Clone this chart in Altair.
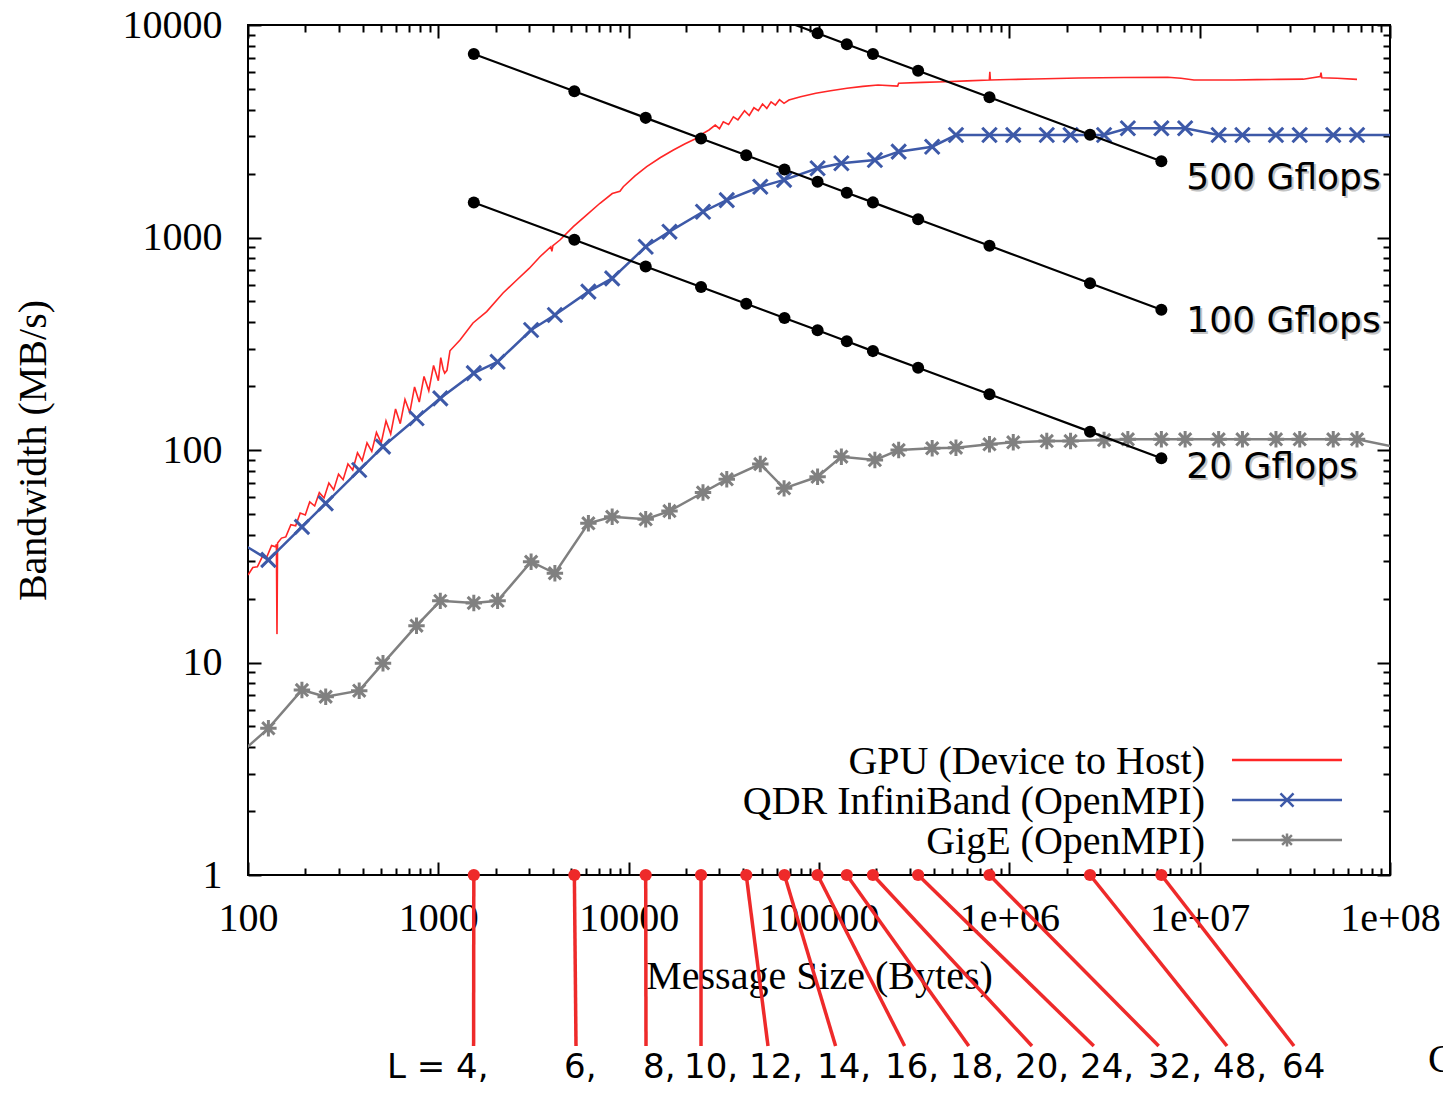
import altair as alt
import pandas as pd

# ---------------- data ----------------
gpu_size = [100, 106, 112, 119, 126, 133, 140, 141, 142, 143,
            150, 158, 168, 178, 188, 200, 211, 224, 237, 251,
            266, 282, 299, 316, 335, 355, 376, 398, 422, 447,
            473, 501, 531, 562, 596, 631, 668, 708, 750, 794,
            841, 891, 944, 1000, 1030, 1060, 1080, 1110, 1151, 1300,
            1521, 1795, 2188, 2583, 3000, 3420, 3900, 3950, 4000, 4355,
            5118, 6000, 7066, 8200, 9000, 9372, 10800, 12440, 14700, 17180,
            19800, 22750, 24500, 26420, 28500, 30000, 31420, 33500, 35500, 37500,
            40620, 43000, 45500, 48000, 50500, 53200, 56000, 59000, 62000, 65500,
            69500, 80000, 96200, 115000, 140300, 170000, 204200, 259000, 262000, 350000,
            459000, 600000, 785000, 790000, 795000, 1000000, 1349000, 2310000, 4000000, 6790000,
            7980000, 9330000, 15200000, 20000000, 26100000, 35000000, 43000000, 43400000, 43800000, 52700000,
            67100000]
gpu_bw = [25.8, 28.0, 28.2, 31.5, 31.6, 35.5, 35.0, 36.0, 13.6, 36.5,
          38.5, 39.0, 44.5, 44.0, 50.5, 49.5, 57.0, 54.5, 63.0, 59.5,
          70.0, 65.0, 77.0, 72.5, 86.0, 80.5, 97.0, 89.0, 108, 98.5,
          121, 108, 137, 119, 156, 133, 173, 150, 198, 168,
          222, 190, 250, 212, 272, 240, 230, 237, 293, 329,
          396, 448, 548, 631, 715, 812, 905, 860, 915, 973,
          1125, 1274, 1449, 1610, 1650, 1734, 1950, 2154, 2380, 2582,
          2760, 2930, 3080, 3206, 3380, 3250, 3500, 3400, 3700, 3580,
          3950, 3750, 4080, 3950, 4250, 4050, 4350, 4200, 4450, 4280,
          4436, 4600, 4773, 4900, 5035, 5140, 5222, 5160, 5318, 5370,
          5410, 5460, 5510, 6030, 5510, 5540, 5570, 5633, 5660, 5675,
          5612, 5510, 5510, 5530, 5548, 5560, 5717, 5970, 5650, 5612,
          5548]

net_size = [96, 128, 192, 256, 384, 512, 768, 1024,
            1536, 2048, 3072, 4096, 6144, 8192,
            12288, 16384, 24576, 32768, 49152, 65536,
            98304, 131072, 196608, 262144, 393216, 524288,
            786432, 1048576, 1572864, 2097152, 3145728, 4194304,
            6291456, 8388608, 12582912, 16777216, 25165824, 33554432,
            50331648, 67108864, 100663296]
ib_bw = [35.6, 30.4, 43.5, 56.1, 80.5, 103.7, 141, 175,
         230, 260, 367, 432, 556, 642,
         905, 1065, 1322, 1500, 1733, 1866,
         2118, 2235, 2317, 2535, 2675, 3036,
         3036, 3036, 3036, 3036, 3036, 3266,
         3266, 3266, 3036, 3036, 3036, 3036,
         3036, 3036, 3036]
gige_bw = [3.9, 4.9, 7.42, 6.9, 7.37, 9.91, 14.9, 19.5,
           19.05, 19.5, 29.8, 26.3, 45.2, 48.5,
           47.2, 51.6, 63.1, 72.8, 85.9, 66.0,
           74.8, 93.0, 89.7, 100, 101.9, 102.5,
           106.4, 108.7, 110.2, 110.2, 111.4, 112.3,
           112.3, 112.3, 112.3, 112.3, 112.3, 112.3,
           112.3, 112.3, 104.4]

L_values = [4, 6, 8, 10, 12, 14, 16, 18, 20, 24, 32, 48, 64]
L_msg_size = [1536, 5184, 12288, 24000, 41472, 65856, 98304, 139968,
              192000, 331776, 786432, 2654208, 6291456]
L_labels = ["L = 4,", "6,", "8,", "10,", "12,", "14,", "16,", "18,",
            "20,", "24,", "32,", "48,", "64"]
gf20_bw = [1462, 975, 731, 585, 488, 418, 366, 325, 292, 244, 183, 122, 91.4]
gf100_bw = [7310, 4875, 3656, 2925, 2438, 2089, 1828, 1625, 1463, 1219, 914, 609, 457]
gf500_bw = [36560, 24380, 18280, 14620, 12190, 10450, 9140, 8125, 7310, 6094, 4570, 3047, 2285]
gflops_names = ["20 Gflops", "100 Gflops", "500 Gflops"]

series_names = ["GPU (Device to Host)", "QDR InfiniBand (OpenMPI)", "GigE (OpenMPI)"]

x_tick_values = [100, 1000, 10000, 100000, 1000000, 10000000, 100000000]
x_tick_labels = ["100", "1000", "10000", "100000", "1e+06", "1e+07", "1e+08"]
y_tick_values = [1, 10, 100, 1000, 10000]
y_tick_labels = ["1", "10", "100", "1000", "10000"]

# ---------------- layout / style ----------------
W, H = 1142, 850
SERIF = "Liberation Serif"
SANS = "DejaVu Sans"
MAJ, MIN = 13, 7
RED_GPU = "#ff2626"
RED_STEM = "#ee2a2a"
BLUE = "#3d59a8"
GRAY = "#808080"

stem_end_px = [225.6, 328, 398, 453, 520, 587.6, 656.6, 720.8, 784, 845.8, 910.7, 979, 1046]
label_left_px = [139, 316, 395, 436, 501, 569, 637, 702, 767, 832, 900, 965, 1034]
STEM_BOTTOM = 1021
LABEL_BASE = 1053
gf_label_dy = [9, 11, 17]

CROSS = "M-1,-1L1,1M-1,1L1,-1"
STAR = "M-1,0L1,0M0,-1L0,1M-0.75,-0.75L0.75,0.75M-0.75,0.75L0.75,-0.75"
series_colors = [RED_GPU, BLUE, GRAY]
series_marker = [None, CROSS, STAR]
LEG_TEXT_X, LEG_LINE_X1, LEG_LINE_X2, LEG_Y0, LEG_DY = 957, 984, 1094, 735, 40

x_minor = [m * 10 ** k for k in range(2, 8) for m in range(2, 10)]
y_minor = [m * 10 ** k for k in range(0, 4) for m in range(2, 10)]


def label_expr(values, labels):
    expr = "''"
    for v, t in reversed(list(zip(values, labels))):
        expr = f"(abs(datum.value - {v}) < {v} * 1e-6) ? '{t}' : ({expr})"
    return expr


x_scale = alt.Scale(type="log", domain=[100, 100000000], nice=False)
y_scale = alt.Scale(type="log", domain=[1, 10000], nice=False)

tick_common = dict(domain=False, grid=False, tickColor="black", tickWidth=2)

ax_bottom_major = alt.Axis(
    orient="bottom", values=x_tick_values, offset=-MAJ, tickSize=MAJ,
    labelExpr=label_expr(x_tick_values, x_tick_labels),
    labelFont=SERIF, labelFontSize=40, labelColor="black", labelPadding=23,
    labelFlush=False, labelOverlap=False,
    title="Message Size (Bytes)", titleFont=SERIF, titleFontSize=40,
    titleFontWeight="normal", titleColor="black",
    titleX=W / 2, titleY=126, titleBaseline="alphabetic", titleAlign="center",
    **tick_common)
ax_bottom_minor = alt.Axis(orient="bottom", values=x_minor, offset=-MIN, tickSize=MIN,
                           labels=False, title=None, **tick_common)
ax_top_major = alt.Axis(orient="top", values=x_tick_values, offset=-MAJ, tickSize=MAJ,
                        labels=False, title=None, **tick_common)
ax_top_minor = alt.Axis(orient="top", values=x_minor, offset=-MIN, tickSize=MIN,
                        labels=False, title=None, **tick_common)

ax_left_major = alt.Axis(
    orient="left", values=y_tick_values, offset=-MAJ, tickSize=MAJ,
    labelExpr=label_expr(y_tick_values, y_tick_labels),
    labelFont=SERIF, labelFontSize=40, labelColor="black", labelPadding=26,
    labelFlush=False, labelOverlap=False,
    title="Bandwidth (MB/s)", titleFont=SERIF, titleFontSize=40,
    titleFontWeight="normal", titleColor="black",
    titleX=-216, titleY=H / 2, titleAngle=270, titleBaseline="alphabetic",
    titleAlign="center",
    **tick_common)
ax_left_minor = alt.Axis(orient="left", values=y_minor, offset=-MIN, tickSize=MIN,
                         labels=False, title=None, **tick_common)
ax_right_major = alt.Axis(orient="right", values=y_tick_values, offset=-MAJ, tickSize=MAJ,
                          labels=False, title=None, **tick_common)
ax_right_minor = alt.Axis(orient="right", values=y_minor, offset=-MIN, tickSize=MIN,
                          labels=False, title=None, **tick_common)


def X(axis=None, field="size:Q"):
    return alt.X(field, scale=x_scale, axis=axis)


def Y(axis=None):
    return alt.Y("bw:Q", scale=y_scale, axis=axis)


# ---------------- tables ----------------
gpu_df = pd.DataFrame({"size": gpu_size, "bw": gpu_bw})
ib_df = pd.DataFrame({"size": net_size, "bw": ib_bw})
gige_df = pd.DataFrame({"size": net_size, "bw": gige_bw})
gf_rows = []
for name, vals in zip(gflops_names, [gf20_bw, gf100_bw, gf500_bw]):
    for s, b in zip(L_msg_size, vals):
        gf_rows.append({"series": name, "size": s, "bw": b})
gf_df = pd.DataFrame(gf_rows)
stem_df = pd.DataFrame({"size": L_msg_size, "end_px": stem_end_px,
                        "lpx": label_left_px, "label": L_labels})

# ---------------- layers ----------------
layers = []
layers.append(alt.Chart(gpu_df).mark_line(color=RED_GPU, strokeWidth=1.6, clip=True).encode(
    x=X(ax_bottom_major), y=Y(ax_left_major)))

layers.append(alt.Chart(ib_df).mark_line(color=BLUE, strokeWidth=2.5, clip=True).encode(
    x=X(ax_bottom_minor), y=Y(ax_left_minor)))
layers.append(alt.Chart(ib_df).transform_filter(
    "datum.size >= 100 && datum.size <= 100000000").mark_point(
    shape=CROSS, filled=False, size=210, strokeWidth=3, color=BLUE, opacity=1, clip=True).encode(
    x=X(ax_top_major), y=Y(ax_right_major)))

layers.append(alt.Chart(gige_df).mark_line(color=GRAY, strokeWidth=2.5, clip=True).encode(
    x=X(ax_top_minor), y=Y(ax_right_minor)))
layers.append(alt.Chart(gige_df).transform_filter(
    "datum.size >= 100 && datum.size <= 100000000").mark_point(
    shape=STAR, filled=False, size=270, strokeWidth=3, color=GRAY, opacity=1, clip=True).encode(
    x=X(), y=Y()))

layers.append(alt.Chart(gf_df).mark_line(color="black", strokeWidth=2.2, clip=True).encode(
    x=X(), y=Y(), detail="series:N"))
layers.append(alt.Chart(gf_df).transform_filter("datum.bw <= 10000").mark_circle(
    color="black", size=145, opacity=1).encode(x=X(), y=Y()))

for name, vals, dy in zip(gflops_names, [gf20_bw, gf100_bw, gf500_bw], gf_label_dy):
    lab_df = pd.DataFrame({"size": [L_msg_size[-1]], "bw": [vals[-1]], "label": [name]})
    layers.append(alt.Chart(lab_df).mark_text(
        align="left", baseline="middle", dx=27, dy=dy + 2, font=SANS, fontSize=36,
        color="#c4c4c4").encode(x=X(), y=Y(), text="label:N"))
    layers.append(alt.Chart(lab_df).mark_text(
        align="left", baseline="middle", dx=25, dy=dy, font=SANS, fontSize=36,
        color="black").encode(x=X(), y=Y(), text="label:N"))

layers.append(alt.Chart(stem_df).transform_calculate(
    xend=f"pow(10, 2 + 6 * datum.end_px / {W})").mark_rule(
    color=RED_STEM, strokeWidth=3.5).encode(
    x=X(), x2=alt.X2("xend:Q"), y=alt.value(H), y2=alt.value(STEM_BOTTOM)))
layers.append(alt.Chart(stem_df).mark_circle(color=RED_STEM, size=150, opacity=1).encode(
    x=X(), y=alt.value(H)))
layers.append(alt.Chart(stem_df).transform_calculate(
    lx=f"pow(10, 2 + 6 * datum.lpx / {W})").mark_text(
    align="left", baseline="alphabetic", font=SANS, fontSize=34, color="black").encode(
    x=X(field="lx:Q"), y=alt.value(LABEL_BASE), text="label:N"))

layers.append(alt.Chart(pd.DataFrame({"t": ["C"]})).mark_text(
    align="left", baseline="alphabetic", font=SERIF, fontSize=40, color="black").encode(
    x=alt.value(1180), y=alt.value(1047), text="t:N"))

# key (gnuplot style: text on the left, sample on the right)
for i, (name, col, mk) in enumerate(zip(series_names, series_colors, series_marker)):
    yy = LEG_Y0 + LEG_DY * i
    row_df = pd.DataFrame({"t": [name]})
    layers.append(alt.Chart(row_df).mark_text(
        align="right", baseline="middle", font=SERIF, fontSize=40, color="black").encode(
        x=alt.value(LEG_TEXT_X), y=alt.value(yy + 2), text="t:N"))
    layers.append(alt.Chart(row_df).mark_rule(color=col, strokeWidth=2.5).encode(
        x=alt.value(LEG_LINE_X1), x2=alt.value(LEG_LINE_X2), y=alt.value(yy)))
    if mk is not None:
        layers.append(alt.Chart(row_df).mark_point(
            shape=mk, filled=False, size=170, strokeWidth=2.5, color=col, opacity=1).encode(
            x=alt.value((LEG_LINE_X1 + LEG_LINE_X2) / 2), y=alt.value(yy)))

chart = alt.layer(*layers).resolve_axis(x="independent", y="independent").properties(
    width=W, height=H,
    autosize=alt.AutoSizeParams(type="none"),
    padding={"left": 240, "top": 17, "right": 53, "bottom": 211},
    background="white",
).configure_view(stroke="black", strokeWidth=2).configure_axis(grid=False)

chart.save("out.html", embed_options={"renderer": "svg", "actions": False})
